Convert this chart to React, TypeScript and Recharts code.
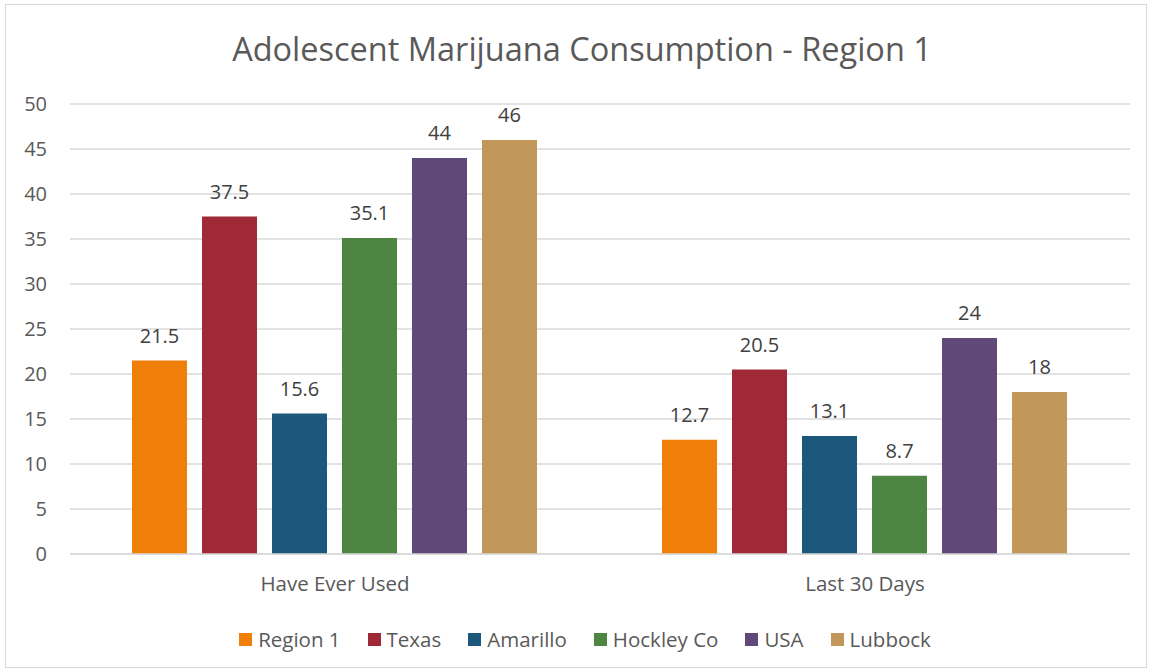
import React from "react";
import { BarChart, Bar, XAxis, YAxis, CartesianGrid, Legend, LabelList } from "recharts";

const categories = ["Have Ever Used", "Last 30 Days"];
const seriesNames = ["Region 1", "Texas", "Amarillo", "Hockley Co", "USA", "Lubbock"];
const region1 = [21.5, 12.7];
const texas = [37.5, 20.5];
const amarillo = [15.6, 13.1];
const hockley = [35.1, 8.7];
const usa = [44, 24];
const lubbock = [46, 18];
const yTicks = [0, 5, 10, 15, 20, 25, 30, 35, 40, 45, 50];
const colors = ["#f07f09", "#9f2936", "#1b587c", "#4e8542", "#604878", "#c19859"];

const seriesValues = [region1, texas, amarillo, hockley, usa, lubbock];
const data = categories.map((c, i) => {
  const row: Record<string, any> = { name: c };
  seriesNames.forEach((s, j) => {
    row[s] = seriesValues[j][i];
  });
  return row;
});

const FONT = "'Open Sans', 'DejaVu Sans', sans-serif";

const renderLegend = () => (
  <div
    style={{
      height: 30,
      display: "flex",
      justifyContent: "center",
      alignItems: "center",
      fontFamily: FONT,
      fontSize: 20.5,
      color: "#595959",
      paddingLeft: 40,
    }}
  >
    {seriesNames.map((s, i) => (
      <div key={s} style={{ display: "flex", alignItems: "center", marginRight: i < seriesNames.length - 1 ? 27 : 0 }}>
        <div style={{ width: 13, height: 13, background: colors[i], marginRight: 6 }} />
        <span>{s}</span>
      </div>
    ))}
  </div>
);

export default function App() {
  return (
    <div style={{ position: "absolute", left: 0, top: 0, width: 1150, height: 672, background: "#fff" }}>
      <div
        style={{
          position: "absolute",
          left: 5,
          top: 4,
          width: 1142,
          height: 664,
          border: "1px solid #d9d9d9",
          boxSizing: "border-box",
        }}
      />
      <div
        style={{
          position: "absolute",
          left: 0,
          top: 26,
          width: 1164,
          textAlign: "center",
          fontFamily: FONT,
          fontSize: 32.5,
          color: "#595959",
          lineHeight: "46px",
        }}
      >
        Adolescent Marijuana Consumption - Region 1
      </div>
      <div style={{ position: "absolute", left: 0, top: 0 }}>
        <BarChart
          width={1150}
          height={672}
          data={data}
          margin={{ top: 104, right: 20, bottom: 18, left: 0 }}
          barCategoryGap={62}
          barGap={15}
        >
          <CartesianGrid vertical={false} stroke="#d9d9d9" strokeWidth={1.5} />
          <XAxis
            dataKey="name"
            axisLine={{ stroke: "#d9d9d9", strokeWidth: 1.5 }}
            tickLine={false}
            tickSize={0}
            tickMargin={22}
            height={70}
            tick={{ fill: "#595959", fontSize: 20.5, fontFamily: FONT }}
          />
          <YAxis
            domain={[0, 50]}
            ticks={yTicks}
            width={70}
            axisLine={false}
            tickLine={false}
            tickSize={0}
            tickMargin={23}
            tick={{ fill: "#595959", fontSize: 20, fontFamily: FONT }}
          />
          <Legend verticalAlign="bottom" content={renderLegend} />
          {seriesNames.map((s, i) => (
            <Bar key={s} dataKey={s} fill={colors[i]} isAnimationActive={false}>
              <LabelList
                dataKey={s}
                position="top"
                offset={18}
                fill="#404040"
                fontSize={20}
                fontFamily={FONT}
              />
            </Bar>
          ))}
        </BarChart>
      </div>
    </div>
  );
}
